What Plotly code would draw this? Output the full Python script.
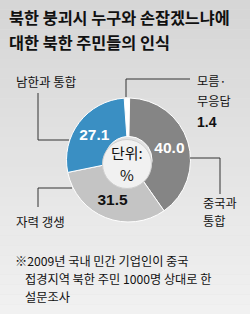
import plotly.graph_objects as go

# ---- data ----
categories = ["모름·무응답", "중국과 통합", "자력 갱생", "남한과 통합"]
values = [1.4, 40.0, 31.5, 27.1]
value_labels = ["1.4", "40.0", "31.5", "27.1"]
title_lines = ["북한 붕괴시 누구와 손잡겠느냐에", "대한 북한 주민들의 인식"]
footnote_lines = ["※2009년 국내 민간 기업인이 중국", "접경지역 북한 주민 1000명 상대로 한", "설문조사"]
unit_lines = ["단위:", "%"]

W, H = 250, 314
def px(x): return x / W
def py(y): return 1 - y / H

KR = "Noto Sans CJK KR"
NUM = "Liberation Sans Narrow, Arial Narrow, Liberation Sans, Arial"

slice_colors = ["#ffffff", "#858585", "#c4c4c4", "#3a8fc3"]
text_colors = ["#ffffff", "#ffffff", "#111111", "#ffffff"]

cx, cy, r = 128.5, 160, 62
texts = [""] + value_labels[1:]

fig = go.Figure(go.Pie(
    labels=categories,
    values=values,
    sort=False,
    direction="clockwise",
    rotation=-4,
    hole=0.38,
    text=texts,
    textinfo="text",
    textposition="inside",
    insidetextorientation="horizontal",
    textfont=dict(family=NUM, size=15.5, color=text_colors, weight="bold"),
    marker=dict(colors=slice_colors, line=dict(color="#ffffff", width=1)),
    domain=dict(x=[px(cx - r), px(cx + r)], y=[py(cy + r), py(cy - r)]),
    showlegend=False,
    hoverinfo="skip",
))

shapes = []
# background gradient bands
n = 32
for i in range(n):
    t = i / (n - 1)
    c = int(214 + (241 - 214) * t)
    shapes.append(dict(type="rect", xref="paper", yref="paper", layer="below",
                       x0=0, x1=1, y0=1 - (i + 1) / n, y1=1 - i / n,
                       fillcolor=f"rgb({c},{c},{c})", line=dict(width=0)))
# inner circle
shapes.append(dict(type="circle", xref="paper", yref="paper", layer="above",
                   x0=px(102.5), x1=px(151.5), y0=py(188.5), y1=py(139.5),
                   fillcolor="#f1f1f1", line=dict(color="#cfcfcf", width=1)))

def path(pts):
    d = "M " + " L ".join(f"{px(x)},{py(y)}" for x, y in pts)
    return dict(type="path", path=d, xref="paper", yref="paper",
                line=dict(color="#333333", width=1), layer="above")

shapes.append(path([(38, 93), (38, 140), (69, 140)]))
shapes.append(path([(126, 97), (126, 79), (190, 79)]))
shapes.append(path([(190, 158), (220, 158), (220, 194)]))
shapes.append(path([(72, 188), (38, 188), (38, 207)]))

ann = []
def A(text, x, y, size, xanchor="left", color="#111111", family=KR, bold=False):
    ann.append(dict(text=text, x=px(x), y=py(y), xref="paper", yref="paper",
                    xanchor=xanchor, yanchor="middle", showarrow=False,
                    font=dict(family=family, size=size, color=color,
                              weight="bold" if bold else "normal")))

A(title_lines[0], 7, 17, 16.3, bold=True)
A(title_lines[1], 7, 42, 16.3, bold=True)

A(categories[3], 14, 82, 12.5)
A("모름·", 195, 81, 12.2)
A("무응답", 195, 101, 12.2)
A(value_labels[0], 195, 122, 14, family=NUM, bold=True)
A("중국과", 201, 203, 12.2)
A("통합", 201, 221, 12.2)
A(categories[2], 14, 222, 12.5)

A(unit_lines[0], 127, 152, 15, xanchor="center")
A(unit_lines[1], 127, 174, 15, xanchor="center")

A(footnote_lines[0], 13, 261, 12.2)
A(footnote_lines[1], 23, 279, 12.2)
A(footnote_lines[2], 23, 297, 12.2)

fig.update_layout(
    width=W, height=H,
    margin=dict(l=0, r=0, t=0, b=0),
    paper_bgcolor="#e2e2e2",
    plot_bgcolor="#e2e2e2",
    shapes=shapes,
    annotations=ann,
    uniformtext=dict(minsize=10, mode="show"),
)

fig.write_html("out.html", config={"displayModeBar": False})
